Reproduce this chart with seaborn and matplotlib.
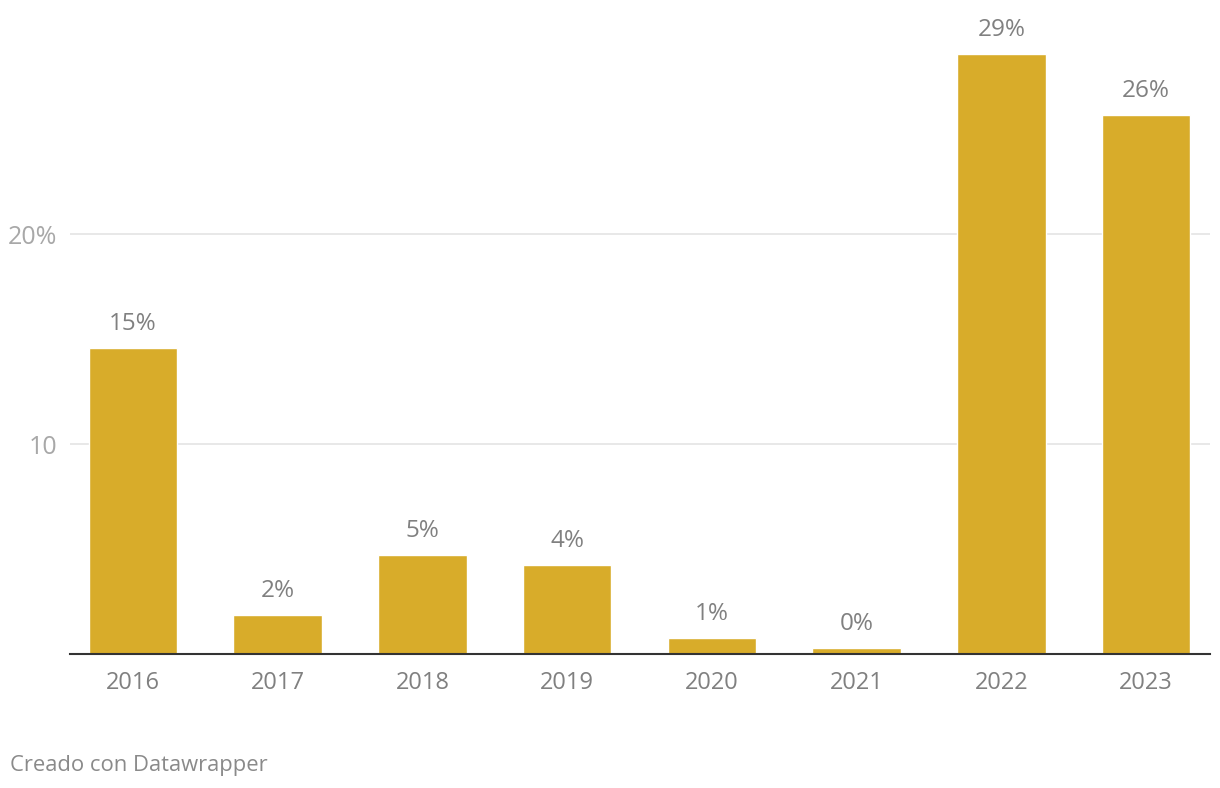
import matplotlib
matplotlib.use("Agg")
import matplotlib.pyplot as plt
import seaborn as sns
import pandas as pd

years = ["2016", "2017", "2018", "2019", "2020", "2021", "2022", "2023"]
values = [14.57, 1.86, 4.71, 4.24, 0.76, 0.29, 28.57, 25.67]
labels = ["15%", "2%", "5%", "4%", "1%", "0%", "29%", "26%"]
ytick_vals = [10, 20]
ytick_labels = ["10", "20%"]

sns.set_theme(style="white")
plt.rcParams["font.family"] = ["Open Sans", "DejaVu Sans"]

W, H = 1220, 788
fig = plt.figure(figsize=(W / 100, H / 100), dpi=100)
ax = fig.add_axes([70 / W, (H - 654) / H, (1210 - 70) / W, 654 / H])

df = pd.DataFrame({"year": years, "value": values})
sns.barplot(data=df, x="year", y="value", color="#D8AC2A", saturation=1,
            width=0.612, ax=ax, zorder=3)

ax.set_xlim(-0.435, 7.442)
ax.set_ylim(0, 654 / 21)

for i, (v, lab) in enumerate(zip(values, labels)):
    ax.annotate(lab, (i, v), xytext=(0, 12), textcoords="offset pixels",
                ha="center", va="bottom", fontsize=17.5, color="#808080")

ax.set_yticks(ytick_vals)
ax.set_yticklabels(ytick_labels)
for y in ytick_vals:
    ax.axhline(y, color="#e2e2e2", lw=1.1, zorder=1)

ax.tick_params(axis="y", length=0, pad=9, labelsize=18, labelcolor="#a8a8a8")
ax.tick_params(axis="x", length=0, pad=12, labelsize=17, labelcolor="#808080")
ax.set_xlabel("")
ax.set_ylabel("")
for s in ["top", "right", "left"]:
    ax.spines[s].set_visible(False)
ax.spines["bottom"].set_color("#333333")
ax.spines["bottom"].set_linewidth(1.5)
ax.spines["bottom"].set_zorder(5)

fig.text(10 / W, 1 - 766 / H, "Creado con Datawrapper", ha="left", va="center",
         fontsize=15.8, color="#8a8a8a")

fig.savefig("out.png", dpi=100)
